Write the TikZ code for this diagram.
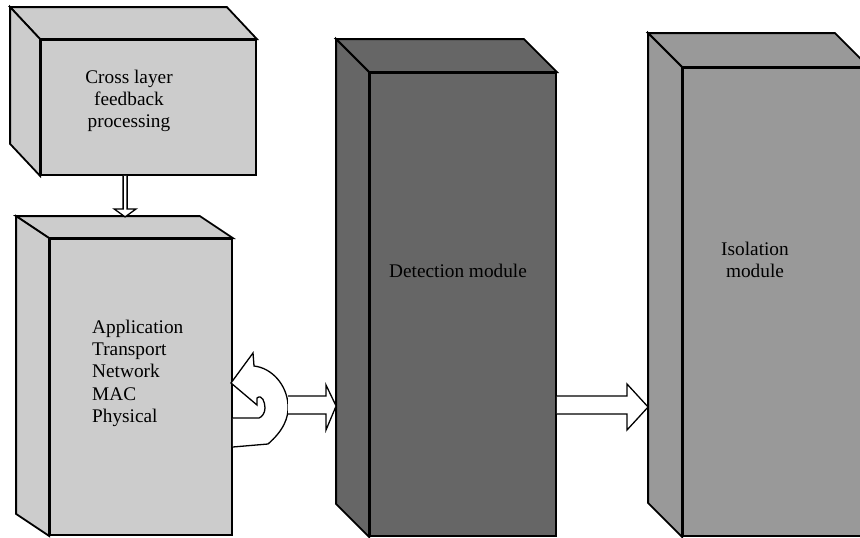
\documentclass[tikz,border=0pt]{standalone}
\usepackage{fontspec}
\setmainfont{Liberation Serif}
\usetikzlibrary{calc}
\definecolor{lightbox}{HTML}{CCCCCC}
\definecolor{darkbox}{HTML}{666666}
\definecolor{midbox}{HTML}{999999}
\tikzset{
  face/.style={draw=black, line width=1.8pt, rectangle, inner sep=0pt, line join=miter},
  side/.style={draw=black, line width=1.8pt, line join=miter},
  blockarrow/.style={draw=black, fill=white, line width=1.3pt, line join=miter},
  lbl/.style={font=\fontsize{19.3}{22.2}\selectfont, inner sep=0pt},
}
% \cuboid{name}{cx}{cy}{w}{h}{dx}{dy}{colour}
\newcommand{\cuboid}[8]{%
  \node[face, fill=#8, minimum width=#4pt, minimum height=#5pt] (#1) at (#2,#3) {};
  \draw[side, fill=#8] (#1.north west) -- ($(#1.north west)+(#6,#7)$) -- ($(#1.north east)+(#6,#7)$) -- (#1.north east) -- cycle;
  \draw[side, fill=#8] (#1.north west) -- ($(#1.north west)+(#6,#7)$) -- ($(#1.south west)+(#6,#7)$) -- (#1.south west) -- cycle;
}
\begin{document}
\begin{tikzpicture}[x=1pt, y=-1pt]
\useasboundingbox (0,0) rectangle (860,538);
\begin{scope}
\clip (0,0) rectangle (860,538);
% boxes
\cuboid{cross}{148.5}{107.5}{215}{135}{-30}{-32}{lightbox}
\cuboid{app}{141}{387}{182}{296}{-33}{-22}{lightbox}
\cuboid{det}{463}{304.5}{186}{463}{-33}{-33}{darkbox}
\cuboid{iso}{775.5}{302}{185}{468}{-34}{-34}{midbox}
\end{scope}

% labels
\node[lbl, align=center] (crosstxt) at (129,101) {Cross layer\\feedback\\processing};
\node[lbl, align=left, anchor=north west] (apptxt) at (92,320) {Application\\Transport\\Network\\MAC\\Physical};
\node[lbl] (dettxt) at (458,271) {Detection module};
\node[lbl, align=center] (isotxt) at (755,260) {Isolation\\module};

% down arrow cross -> app
\coordinate (dstart) at ($(cross.south west)+(83,0)$);
\draw[blockarrow] (dstart) -- ++(0,33) -- ++(-9,0) -- ++(11,8) -- ++(11,-8) -- ++(-9,0) -- ++(0,-33);

% U-turn arrow at the side of the layer stack
\coordinate (ubot) at (app.east |- 0,447);
\draw[blockarrow] (ubot) -- (268,444)
  .. controls (283,431) and (289,418) .. (288,405)
  .. controls (287,385) and (272,368) .. (254,366)
  -- (253,353) -- (231,383) -- (257,405) -- (257,398)
  .. controls (262,394) and (265,402) .. (265,408)
  .. controls (265,413) and (262,417) .. (259,418)
  -- (app.east |- 0,418);

% right arrow app -> detection
\coordinate (r1) at (288,396);
\draw[blockarrow] (r1) -- (326,396) -- (326,385) -- ($(det.west |- 0,406)+(-33,0)$) -- (326,430) -- (326,414) -- (288,414);

% right arrow detection -> isolation
\coordinate (r2) at (det.east |- 0,396);
\draw[blockarrow] (r2) -- (627,396) -- (627,384) -- ($(iso.west |- 0,407)+(-34,0)$) -- (627,430) -- (627,414) -- (det.east |- 0,414);
\end{tikzpicture}
\end{document}
